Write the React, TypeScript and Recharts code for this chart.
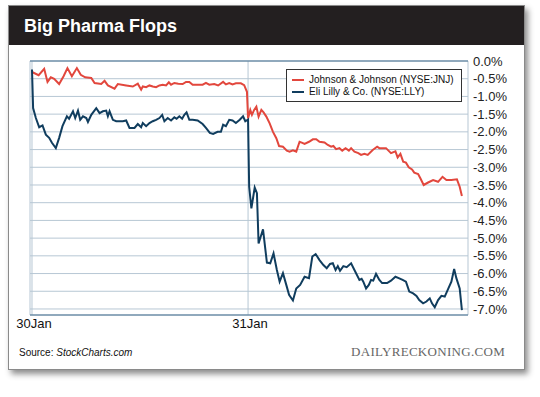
import React from "react";
import { LineChart, Line, XAxis, YAxis, CartesianGrid, ReferenceLine, Legend } from "recharts";

const title = "Big Pharma Flops";
const sourceLabel = "Source: ";
const sourceName = "StockCharts.com";
const brand = "DAILYRECKONING.COM";
const seriesNames = ["Johnson & Johnson (NYSE:JNJ)", "Eli Lilly & Co. (NYSE:LLY)"];
const seriesColors = ["#e2473d", "#103d5e"];

const xTickValues = [0, 390];
const xTickLabels = ["30Jan", "31Jan"];
const yTickValues = [0, -0.5, -1, -1.5, -2, -2.5, -3, -3.5, -4, -4.5, -5, -5.5, -6, -6.5, -7];

// minutes since 30 Jan open (390 = 31 Jan open)
const jnjMinutes = [0, 12, 22, 28, 34, 40, 49, 57, 64, 72, 81, 88, 96, 107, 113, 125, 131, 137, 149, 155, 170, 182, 191, 197, 200, 206, 212, 218, 224, 230, 236, 242, 247, 251, 257, 264, 272, 278, 284, 290, 296, 308, 314, 320, 329, 336, 345, 350, 356, 362, 368, 377, 383, 388, 390, 394, 397, 401, 405, 409, 414, 418, 423, 429, 435, 441, 446, 453, 460, 465, 471, 477, 483, 488, 492, 500, 507, 513, 519, 528, 534, 540, 544, 549, 555, 560, 566, 572, 576, 582, 589, 594, 600, 606, 615, 623, 627, 639, 648, 656, 660, 665, 670, 675, 680, 686, 690, 697, 701, 707, 715, 724, 733, 741, 748, 757, 767, 772, 776];
const jnjValues = [-0.31, -0.40, -0.22, -0.59, -0.46, -0.50, -0.65, -0.43, -0.20, -0.43, -0.20, -0.39, -0.46, -0.48, -0.62, -0.65, -0.56, -0.69, -0.78, -0.65, -0.69, -0.72, -0.64, -0.81, -0.72, -0.74, -0.69, -0.72, -0.74, -0.69, -0.67, -0.69, -0.60, -0.67, -0.62, -0.64, -0.65, -0.59, -0.59, -0.67, -0.67, -0.67, -0.62, -0.67, -0.65, -0.69, -0.59, -0.66, -0.62, -0.66, -0.63, -0.63, -0.68, -0.87, -1.62, -1.38, -1.52, -1.38, -1.29, -1.57, -1.38, -1.45, -1.57, -1.76, -2.00, -2.18, -2.40, -2.42, -2.53, -2.56, -2.52, -2.56, -2.28, -2.31, -2.34, -2.28, -2.21, -2.21, -2.28, -2.30, -2.37, -2.42, -2.40, -2.49, -2.46, -2.53, -2.46, -2.53, -2.46, -2.56, -2.60, -2.65, -2.62, -2.65, -2.51, -2.42, -2.46, -2.46, -2.60, -2.55, -2.72, -2.62, -2.84, -2.87, -3.00, -3.06, -3.15, -3.19, -3.31, -3.50, -3.43, -3.36, -3.41, -3.27, -3.36, -3.36, -3.34, -3.55, -3.81];

const llyMinutes = [0, 2, 7, 13, 19, 25, 31, 36, 43, 49, 55, 63, 67, 74, 78, 83, 87, 92, 98, 101, 107, 116, 122, 128, 134, 137, 140, 146, 152, 164, 170, 176, 185, 191, 197, 200, 206, 212, 218, 224, 230, 235, 239, 245, 251, 257, 261, 266, 271, 275, 279, 284, 290, 299, 308, 314, 321, 327, 335, 341, 345, 350, 356, 362, 368, 375, 381, 385, 390, 392, 396, 402, 406, 409, 417, 424, 430, 436, 442, 447, 453, 459, 464, 471, 477, 484, 492, 500, 506, 512, 519, 526, 532, 538, 543, 548, 552, 556, 562, 568, 576, 582, 591, 595, 598, 603, 608, 612, 616, 621, 627, 632, 641, 648, 656, 662, 669, 675, 681, 688, 694, 699, 706, 712, 718, 722, 727, 733, 739, 745, 751, 757, 762, 766, 772, 776];
const llyValues = [-0.24, -1.33, -1.61, -1.87, -1.82, -2.08, -2.17, -2.31, -2.46, -2.17, -1.84, -1.56, -1.63, -1.42, -1.61, -1.40, -1.66, -1.56, -1.61, -1.72, -1.52, -1.33, -1.47, -1.42, -1.40, -1.56, -1.42, -1.66, -1.70, -1.70, -1.68, -1.89, -1.89, -1.78, -1.87, -1.75, -1.84, -1.75, -1.70, -1.66, -1.61, -1.52, -1.70, -1.61, -1.68, -1.59, -1.63, -1.56, -1.63, -1.52, -1.45, -1.66, -1.66, -1.68, -1.78, -1.89, -2.03, -2.06, -2.00, -2.00, -1.80, -1.84, -1.66, -1.68, -1.75, -1.66, -1.56, -1.70, -1.65, -3.55, -4.16, -3.57, -3.73, -5.15, -4.75, -5.69, -5.71, -5.43, -5.90, -6.23, -5.99, -6.32, -6.60, -6.76, -6.42, -6.32, -6.09, -6.13, -5.52, -5.45, -5.62, -5.76, -5.85, -5.73, -5.71, -5.90, -5.79, -5.92, -5.79, -5.82, -5.71, -5.90, -6.18, -6.15, -6.23, -6.42, -6.32, -6.18, -6.20, -6.01, -6.18, -6.27, -6.27, -6.20, -6.09, -6.13, -6.18, -6.23, -6.51, -6.56, -6.63, -6.75, -6.84, -6.79, -6.70, -6.84, -6.95, -6.75, -6.63, -6.65, -6.44, -6.23, -5.87, -6.13, -6.42, -7.03];

type Row = { t: number; jnj?: number; lly?: number };

function buildRows(): Row[] {
  const map = new Map<number, Row>();
  jnjMinutes.forEach((t, i) => {
    const r = map.get(t) || { t };
    r.jnj = jnjValues[i];
    map.set(t, r);
  });
  llyMinutes.forEach((t, i) => {
    const r = map.get(t) || { t };
    r.lly = llyValues[i];
    map.set(t, r);
  });
  return Array.from(map.values()).sort((a, b) => a.t - b.t);
}

const rows = buildRows();

const SANS = "'Liberation Sans', Arial, Helvetica, sans-serif";
const SERIF = "'Liberation Serif', 'Times New Roman', serif";
const GRID = "#b7c7d4";
const FRAME = "#46708f";

const LegendBox = () => (
  <div
    style={{
      width: 176,
      height: 33,
      boxSizing: "border-box",
      border: "1px solid #333",
      background: "#fff",
      padding: "4px 0 0 5px",
      fontFamily: SANS,
      fontSize: 10,
      color: "#111",
      lineHeight: "12px",
    }}
  >
    {seriesNames.map((n, i) => (
      <div key={n} style={{ display: "flex", alignItems: "center", height: 12, whiteSpace: "nowrap" }}>
        <span style={{ display: "inline-block", width: 12, height: 2, background: seriesColors[i], marginRight: 5 }} />
        <span>{n}</span>
      </div>
    ))}
  </div>
);

export default function App() {
  return (
    <div style={{ position: "absolute", left: 0, top: 0, width: 540, height: 397, background: "#fff" }}>
      <div
        style={{
          position: "absolute",
          left: 8,
          top: 5,
          width: 517,
          height: 365,
          boxSizing: "border-box",
          border: "1px solid #8a8a8a",
          background: "#fff",
          boxShadow: "3px 4px 6px rgba(0,0,0,0.45)",
        }}
      >
        <div
          style={{
            position: "absolute",
            left: 0,
            top: 0,
            right: 0,
            height: 39,
            background: "#231f20",
          }}
        />
        <div
          style={{
            position: "absolute",
            left: 15,
            top: 9,
            color: "#fff",
            fontFamily: SANS,
            fontWeight: "bold",
            fontSize: 18,
            lineHeight: "22px",
          }}
        >
          {title}
        </div>
        <div
          style={{
            position: "absolute",
            left: 10,
            top: 340,
            fontFamily: SANS,
            fontSize: 10,
            color: "#111",
            lineHeight: "14px",
          }}
        >
          {sourceLabel}
          <i>{sourceName}</i>
        </div>
        <div
          style={{
            position: "absolute",
            right: 19,
            top: 338,
            fontFamily: SERIF,
            fontSize: 13,
            color: "#666",
            letterSpacing: 0.3,
            lineHeight: "16px",
          }}
        >
          {brand}
        </div>
      </div>
      <div style={{ position: "absolute", left: 0, top: 0 }}>
        <LineChart
          width={540}
          height={397}
          data={rows}
          margin={{ top: 61, right: 12, bottom: 52, left: 30 }}
        >
          <CartesianGrid stroke={GRID} strokeWidth={1} horizontal={true} vertical={true} />
          <XAxis
            dataKey="t"
            type="number"
            domain={[-3.6, 787]}
            ticks={xTickValues}
            tickFormatter={(v: number) => xTickLabels[xTickValues.indexOf(v)] ?? ""}
            axisLine={{ stroke: FRAME, strokeWidth: 1.2 }}
            tickLine={false}
            tickSize={0}
            tickMargin={4}
            height={30}
            tick={{ fontFamily: SANS, fontSize: 13, fill: "#111", dx: 2 }}
            allowDataOverflow
          />
          <YAxis
            orientation="right"
            type="number"
            domain={[-7.17, 0]}
            ticks={yTickValues}
            interval={0}
            tickFormatter={(v: number) => `${v.toFixed(1)}%`}
            axisLine={false}
            tickLine={false}
            tickSize={0}
            tickMargin={5}
            width={60}
            tick={{ fontFamily: SANS, fontSize: 13, fill: "#222", textAnchor: "start" }}
            allowDataOverflow
          />
          <ReferenceLine y={0} stroke={FRAME} strokeWidth={1.2} ifOverflow="extendDomain" />
          <Legend
            layout="vertical"
            align="center"
            verticalAlign="middle"
            content={() => <LegendBox />}
            wrapperStyle={{ left: 286, top: 69, width: 176, height: 33, margin: 0 }}
          />
          <Line
            type="linear"
            dataKey="jnj"
            name={seriesNames[0]}
            stroke={seriesColors[0]}
            strokeWidth={2}
            dot={false}
            connectNulls
            isAnimationActive={false}
          />
          <Line
            type="linear"
            dataKey="lly"
            name={seriesNames[1]}
            stroke={seriesColors[1]}
            strokeWidth={2}
            dot={false}
            connectNulls
            isAnimationActive={false}
          />
        </LineChart>
      </div>
    </div>
  );
}
